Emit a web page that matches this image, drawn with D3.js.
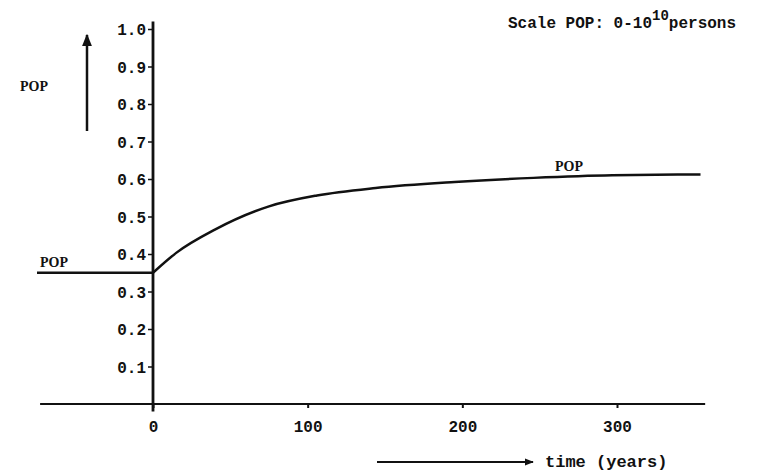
<!DOCTYPE html>
<html>
<head>
<meta charset="utf-8">
<script src="https://cdn.jsdelivr.net/npm/d3@7"></script>
<style>
  body { margin: 0; background: #fff; }
  svg { display: block; }
  .mono { font-family: "Liberation Mono", "DejaVu Sans Mono", monospace; font-weight: bold; }
  .serif { font-family: "Liberation Serif", serif; font-weight: bold; }
</style>
</head>
<body>
<script>
// Data
const years = [0, 15, 40, 75, 106, 144, 195, 246, 297, 354];
const pop = [0.35, 0.403, 0.465, 0.527, 0.556, 0.576, 0.592, 0.603, 0.610, 0.612];
const preYears = [-75, 0];
const prePop = [0.35, 0.35];
const yTicks = [0.1, 0.2, 0.3, 0.4, 0.5, 0.6, 0.7, 0.8, 0.9, 1.0];
const xTicks = [0, 100, 200, 300];

const width = 761, height = 474;

const svg = d3.select("body").append("svg")
    .attr("width", width)
    .attr("height", height);

// scales
const x = d3.scaleLinear().domain([0, 300]).range([153, 617]);
const y = d3.scaleLinear().domain([0, 1]).range([404, 29]);

const ink = "#111";

// x axis line
svg.append("line")
    .attr("x1", x(-73)).attr("x2", x(357))
    .attr("y1", y(0)).attr("y2", y(0))
    .attr("stroke", ink).attr("stroke-width", 2.2);

// y axis line
svg.append("line")
    .attr("x1", x(0)).attr("x2", x(0))
    .attr("y1", y(1.02)).attr("y2", y(-0.02))
    .attr("stroke", ink).attr("stroke-width", 2.8);

// y ticks + labels
const yAxis = svg.append("g")
    .attr("transform", `translate(${x(0)},0)`)
    .call(d3.axisLeft(y).tickValues(yTicks).tickFormat(d3.format(".1f")).tickSize(5).tickPadding(2));
yAxis.select(".domain").remove();
yAxis.selectAll("line").attr("stroke", ink).attr("stroke-width", 1.5);
yAxis.selectAll("text")
    .attr("class", "mono")
    .attr("fill", ink)
    .style("font-size", "16px")
    .attr("dy", "0.35em");

// x ticks + labels
const xAxis = svg.append("g")
    .attr("transform", `translate(0,${y(0)})`)
    .call(d3.axisBottom(x).tickValues(xTicks).tickFormat(d3.format("d")).tickSize(4));
xAxis.select(".domain").remove();
xAxis.selectAll("line").attr("stroke", ink).attr("stroke-width", 2);
xAxis.selectAll("text")
    .attr("class", "mono")
    .attr("fill", ink)
    .style("font-size", "16px")
    .attr("y", 17)
    .attr("dy", "0.71em");

// POP curve
const line = d3.line()
    .x(d => x(d))
    .curve(d3.curveMonotoneX);

svg.append("path")
    .attr("d", line.y((d, i) => y(prePop[i]))(preYears))
    .attr("fill", "none").attr("stroke", ink).attr("stroke-width", 2.5);

svg.append("path")
    .attr("d", line.y((d, i) => y(pop[i]))(years))
    .attr("fill", "none").attr("stroke", ink).attr("stroke-width", 2.5);

// labels
svg.append("text").attr("class", "serif")
    .attr("x", 40).attr("y", 267)
    .style("font-size", "14px").attr("fill", ink).text("POP");

svg.append("text").attr("class", "serif")
    .attr("x", 555).attr("y", 171)
    .style("font-size", "14px").attr("fill", ink).text("POP");

svg.append("text").attr("class", "serif")
    .attr("x", 20).attr("y", 91)
    .style("font-size", "14px").attr("fill", ink).text("POP");

// arrow markers
svg.append("defs").append("marker")
    .attr("id", "head")
    .attr("viewBox", "0 0 10 10")
    .attr("refX", 9).attr("refY", 5)
    .attr("markerWidth", 5).attr("markerHeight", 5)
    .attr("orient", "auto")
    .append("path").attr("d", "M0,1L10,5L0,9Z").attr("fill", ink);

svg.append("line")
    .attr("x1", 87).attr("x2", 87)
    .attr("y1", 131).attr("y2", 35)
    .attr("stroke", ink).attr("stroke-width", 2.5)
    .attr("marker-end", "url(#head)");

svg.append("line")
    .attr("x1", 377).attr("x2", 533)
    .attr("y1", 462).attr("y2", 462)
    .attr("stroke", ink).attr("stroke-width", 1.8)
    .attr("marker-end", "url(#head)");

svg.append("text").attr("class", "mono")
    .attr("x", 545).attr("y", 467)
    .style("font-size", "17px").attr("fill", ink).text("time (years)");

// scale note
const note = svg.append("text").attr("class", "mono")
    .attr("x", 508).attr("y", 28)
    .style("font-size", "16px").attr("fill", ink);
note.append("tspan").text("Scale POP: 0-10");
note.append("tspan").attr("dy", -8).style("font-size", "14px").text("10");
note.append("tspan").attr("dy", 8).text("persons");
</script>
</body>
</html>
